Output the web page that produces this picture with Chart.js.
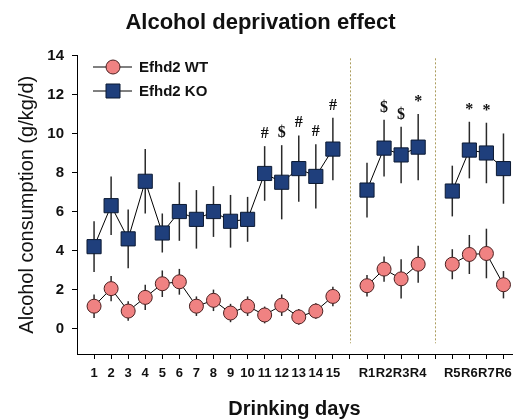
<!DOCTYPE html>
<html>
<head>
<meta charset="utf-8">
<script src="https://cdn.jsdelivr.net/npm/chart.js"></script>
<style>
  body { margin: 0; background: #fff; }
</style>
</head>
<body>
<canvas id="myChart" width="523" height="419"></canvas>
<script>
// drinking days, empty slots separate the deprivation/relapse blocks
const days = ['1', '2', '3', '4', '5', '6', '7', '8', '9', '10', '11', '12', '13', '14', '15', '',
              'R1', 'R2', 'R3', 'R4', '', 'R5', 'R6', 'R7', 'R6'];

const wtMean = [1.15, 2.05, 0.9, 1.6, 2.3, 2.4, 1.15, 1.45, 0.8, 1.15, 0.7, 1.2, 0.6, 0.9, 1.65, null,
                2.2, 3.05, 2.55, 3.3, null, 3.3, 3.8, 3.85, 2.25];
const wtSe = [0.6, 0.65, 0.5, 0.65, 0.68, 0.66, 0.5, 0.55, 0.47, 0.5, 0.43, 0.55, 0.4, 0.4, 0.5, null,
              0.55, 0.65, 1.0, 0.95, null, 0.77, 1.0, 1.27, 0.7];

const koMean = [4.2, 6.3, 4.6, 7.55, 4.9, 6.0, 5.6, 6.0, 5.5, 5.6, 7.95, 7.5, 8.2, 7.8, 9.2, null,
                7.1, 9.25, 8.9, 9.3, null, 7.05, 9.15, 9.0, 8.2];
const koSe = [1.3, 1.5, 1.5, 1.65, 1.0, 1.5, 1.5, 1.3, 1.35, 1.15, 1.4, 1.9, 1.7, 1.65, 1.6, null,
              1.4, 1.45, 1.45, 1.7, null, 1.3, 1.45, 1.55, 1.8];

// significance marks above the KO error bars
const koSig = ['', '', '', '', '', '', '', '', '', '', '#', '$', '#', '#', '#', '',
               '', '$', '$', '*', '', '', '*', '*', ''];

const yTicks = [0, 2, 4, 6, 8, 10, 12, 14];
const dividers = [16, 21];

const WT_FILL = '#f08282';
const WT_EDGE = '#4a2020';
const KO_FILL = '#1f3f7c';
const KO_EDGE = '#0c1a33';

Chart.defaults.font.family = "Arial, 'Liberation Sans', sans-serif";
Chart.defaults.color = '#111';

const toPoints = vals => vals.map((v, i) => ({ x: i + 1, y: v }));

const extras = {
  id: 'extras',
  beforeDatasetsDraw(chart) {
    const { ctx } = chart;
    const xs = chart.scales.x, ys = chart.scales.y;
    ctx.save();
    // block separators
    ctx.strokeStyle = '#ab9c5c';
    ctx.lineWidth = 1;
    ctx.setLineDash([2, 2]);
    dividers.forEach(d => {
      const x = Math.round(xs.getPixelForValue(d)) + 0.5;
      ctx.beginPath();
      ctx.moveTo(x, ys.getPixelForValue(13.85));
      ctx.lineTo(x, ys.getPixelForValue(-0.75));
      ctx.stroke();
    });
    ctx.setLineDash([]);
    // error bars
    ctx.strokeStyle = '#2a2a2a';
    ctx.lineWidth = 1.5;
    chart.data.datasets.forEach(ds => {
      ds.data.forEach((p, i) => {
        const e = ds.errors[i];
        if (p.y === null || e === null) return;
        const x = xs.getPixelForValue(p.x);
        ctx.beginPath();
        ctx.moveTo(x, ys.getPixelForValue(p.y + e));
        ctx.lineTo(x, ys.getPixelForValue(p.y - e));
        ctx.stroke();
      });
    });
    ctx.restore();
  },
  afterDatasetsDraw(chart) {
    const { ctx } = chart;
    const xs = chart.scales.x, ys = chart.scales.y;
    ctx.save();
    ctx.fillStyle = '#111';
    ctx.font = "bold 16px 'Liberation Serif', 'Times New Roman', serif";
    ctx.textAlign = 'center';
    ctx.textBaseline = 'alphabetic';
    koSig.forEach((s, i) => {
      if (!s) return;
      const top = ys.getPixelForValue(koMean[i] + koSe[i]);
      ctx.fillText(s, xs.getPixelForValue(i + 1), top - 8);
    });

    // legend
    const items = [
      { text: 'Efhd2 WT', y: 67, fill: WT_FILL, edge: WT_EDGE, shape: 'circle' },
      { text: 'Efhd2 KO', y: 91, fill: KO_FILL, edge: KO_EDGE, shape: 'rect' }
    ];
    items.forEach(it => {
      ctx.strokeStyle = '#000';
      ctx.lineWidth = 1;
      ctx.beginPath();
      ctx.moveTo(93, it.y);
      ctx.lineTo(132, it.y);
      ctx.stroke();
      ctx.fillStyle = it.fill;
      ctx.strokeStyle = it.edge;
      ctx.beginPath();
      if (it.shape === 'circle') ctx.arc(113, it.y, 7, 0, Math.PI * 2);
      else ctx.rect(106, it.y - 7, 14, 14);
      ctx.fill();
      ctx.stroke();
      ctx.fillStyle = '#111';
      ctx.font = "bold 15px Arial, 'Liberation Sans', sans-serif";
      ctx.textAlign = 'left';
      ctx.textBaseline = 'middle';
      ctx.fillText(it.text, 139, it.y + 1);
    });
    ctx.restore();
  }
};

const ctx = document.getElementById('myChart').getContext('2d');
const myChart = new Chart(ctx, {
  type: 'line',
  data: {
    datasets: [{
      label: 'Efhd2 WT',
      data: toPoints(wtMean),
      errors: wtSe,
      borderColor: '#000',
      borderWidth: 1,
      pointStyle: 'circle',
      pointRadius: 7,
      pointBackgroundColor: WT_FILL,
      pointBorderColor: WT_EDGE,
      pointBorderWidth: 1,
      spanGaps: false
    }, {
      label: 'Efhd2 KO',
      data: toPoints(koMean),
      errors: koSe,
      borderColor: '#000',
      borderWidth: 1,
      pointStyle: 'rect',
      pointRadius: 10,
      pointBackgroundColor: KO_FILL,
      pointBorderColor: KO_EDGE,
      pointBorderWidth: 1,
      spanGaps: false
    }]
  },
  options: {
    responsive: false,
    animation: false,
    layout: { padding: { left: 0, right: 2, top: 0, bottom: 0 } },
    plugins: {
      legend: { display: false },
      tooltip: { enabled: false },
      title: {
        display: true,
        text: 'Alcohol deprivation effect',
        color: '#111',
        font: { size: 22, weight: 'bold', lineHeight: 1.2 },
        padding: { top: 10, bottom: 19 }
      }
    },
    scales: {
      x: {
        type: 'linear',
        min: 0,
        max: 25.5,
        afterBuildTicks: scale => { scale.ticks = days.map((d, i) => ({ value: i + 1 })); },
        afterFit: scale => { scale.height = 65; },
        grid: { drawOnChartArea: false, tickLength: 5, color: '#000', tickColor: '#000' },
        border: { color: '#000', width: 1 },
        ticks: {
          autoSkip: false,
          maxRotation: 0,
          padding: 7,
          color: '#111',
          font: { size: 13, weight: 'bold' },
          callback: value => days[Math.round(value) - 1]
        },
        title: {
          display: true,
          text: 'Drinking days',
          color: '#111',
          font: { size: 20, weight: 'bold', lineHeight: 1 },
          padding: { top: 0, bottom: 0 }
        }
      },
      y: {
        type: 'linear',
        min: -1.3,
        max: 14,
        afterBuildTicks: scale => { scale.ticks = yTicks.map(v => ({ value: v })); },
        afterFit: scale => { scale.width = 77; },
        grid: { drawOnChartArea: false, tickLength: 5, color: '#000', tickColor: '#000' },
        border: { color: '#000', width: 1 },
        ticks: {
          padding: 8,
          color: '#111',
          font: { size: 15, weight: 'bold' }
        },
        title: {
          display: true,
          text: 'Alcohol consumption (g/kg/d)',
          color: '#111',
          font: { size: 20, lineHeight: 1 },
          padding: { top: 17, bottom: 0 }
        }
      }
    }
  },
  plugins: [extras]
});
</script>
</body>
</html>
